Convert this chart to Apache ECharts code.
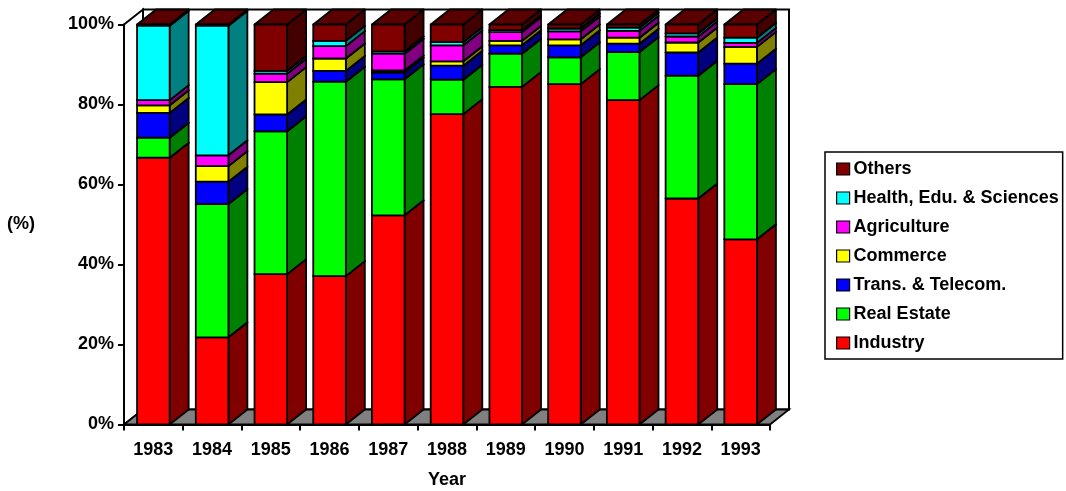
<!DOCTYPE html>
<html>
<head>
<meta charset="utf-8">
<script src="https://cdn.jsdelivr.net/npm/echarts@6/dist/echarts.min.js"></script>
<style>
  html, body { margin: 0; padding: 0; background: #fff; }
  #chart { width: 1066px; height: 491px; }
</style>
</head>
<body>
<div id="chart"></div>
<script>
// Share of investment by sector, 1983-1993 (%)
const years = ['1983', '1984', '1985', '1986', '1987', '1988', '1989', '1990', '1991', '1992', '1993'];
const industry    = [66.7, 21.8, 37.6, 37.1, 52.3, 77.6, 84.4, 85.1, 81.1, 56.5, 46.3];
const realEstate  = [ 5.0, 33.3, 35.7, 48.6, 34.0,  8.6,  8.3,  6.7, 12.0, 30.7, 38.8];
const transport   = [ 6.2,  5.6,  4.2,  2.7,  1.7,  3.5,  2.1,  3.0,  2.1,  5.8,  5.1];
const commerce    = [ 1.9,  3.9,  8.1,  3.1,  0.5,  1.1,  1.1,  1.5,  1.5,  2.5,  4.2];
const agriculture = [ 1.3,  2.7,  2.1,  3.1,  4.2,  4.0,  2.2,  2.0,  1.7,  1.5,  1.0];
const health      = [18.6, 32.4,  0.7,  1.3,  0.6,  0.8,  0.5,  0.7,  0.8,  0.8,  1.3];
const others      = [ 0.3,  0.3, 11.6,  4.1,  6.7,  4.4,  1.4,  1.0,  0.8,  2.2,  3.3];
const yTicks = ['0%', '20%', '40%', '60%', '80%', '100%'];

// stacking order, bottom to top
const layers = [
  { name: 'Industry',                values: industry,    front: '#ff0000', side: '#800000', top: '#b00000' },
  { name: 'Real Estate',             values: realEstate,  front: '#00ff00', side: '#008000', top: '#00b000' },
  { name: 'Trans. & Telecom.',       values: transport,   front: '#0000ff', side: '#000080', top: '#0000b0' },
  { name: 'Commerce',                values: commerce,    front: '#ffff00', side: '#808000', top: '#b0b000' },
  { name: 'Agriculture',             values: agriculture, front: '#ff00ff', side: '#800080', top: '#b000b0' },
  { name: 'Health, Edu. & Sciences', values: health,      front: '#00ffff', side: '#008080', top: '#00b0b0' },
  { name: 'Others',                  values: others,      front: '#800000', side: '#420000', top: '#5a0000' }
];

// depth of the pseudo-3D boxes (px)
const DX = 19, DY = 15;
const BAR_RATIO = 0.555;
const FONT = '"Liberation Sans", Arial, sans-serif';
const FS = 18;
const EDGE = { stroke: '#000', lineWidth: 1.8, lineJoin: 'round' };

function frameItem(params, api) {
  const cs = params.coordSys;
  const x = cs.x, y = cs.y, w = cs.width, h = cs.height;
  const b = y + h;
  return {
    type: 'group',
    children: [
      { type: 'rect', shape: { x: x + DX, y: y - DY, width: w, height: h },
        style: { fill: '#fff', stroke: '#000', lineWidth: 2 } },
      { type: 'polygon', shape: { points: [[x, y], [x + DX, y - DY], [x + DX, b - DY], [x, b]] },
        style: { fill: '#fff', stroke: '#000', lineWidth: 2 } },
      { type: 'polygon', shape: { points: [[x, b], [x + w, b], [x + w + DX, b - DY], [x + DX, b - DY]] },
        style: { fill: '#808080', stroke: '#000', lineWidth: 1.8 } }
    ]
  };
}

function makeBoxRenderer(layer) {
  return function (params, api) {
    const i = api.value(0), lo = api.value(1), hi = api.value(2);
    if (!(hi > lo)) return null;
    const pb = api.coord([i, lo]);
    const pt = api.coord([i, hi]);
    const w = api.size([1, 0])[0] * BAR_RATIO;
    const x0 = pb[0] - w / 2, x1 = pb[0] + w / 2;
    const yb = pb[1], yt = pt[1];
    return {
      type: 'group',
      children: [
        { type: 'polygon', shape: { points: [[x1, yb], [x1 + DX, yb - DY], [x1 + DX, yt - DY], [x1, yt]] },
          style: Object.assign({ fill: layer.side }, EDGE) },
        { type: 'polygon', shape: { points: [[x0, yt], [x1, yt], [x1 + DX, yt - DY], [x0 + DX, yt - DY]] },
          style: Object.assign({ fill: layer.top }, EDGE) },
        { type: 'rect', shape: { x: x0, y: yt, width: w, height: yb - yt },
          style: Object.assign({ fill: layer.front }, EDGE) }
      ]
    };
  };
}

const running = years.map(() => 0);
const boxSeries = layers.map(layer => {
  const data = years.map((_, i) => {
    const lo = running[i];
    const hi = lo + layer.values[i];
    running[i] = hi;
    return [i, lo, hi];
  });
  return {
    type: 'custom',
    name: layer.name,
    renderItem: makeBoxRenderer(layer),
    encode: { x: 0, y: [1, 2] },
    itemStyle: { color: layer.front },
    data: data,
    z: 3
  };
});

const chart = echarts.init(document.getElementById('chart'), null, { renderer: 'canvas' });
chart.setOption({
  animation: false,
  backgroundColor: '#fff',
  textStyle: { fontFamily: FONT, fontWeight: 'bold', color: '#000' },
  grid: { left: 124, right: 296, top: 24.5, bottom: 66.5, containLabel: false, outerBoundsMode: 'none' },
  xAxis: {
    type: 'category',
    data: years,
    name: 'Year',
    nameLocation: 'middle',
    nameGap: 47,
    nameTextStyle: { fontFamily: FONT, fontWeight: 'bold', fontSize: FS, color: '#000' },
    axisLine: { lineStyle: { color: '#000', width: 2 } },
    axisTick: { show: true, length: 6, lineStyle: { color: '#000', width: 2 } },
    axisLabel: { margin: 17, fontFamily: FONT, fontWeight: 'bold', fontSize: FS, color: '#000' },
    splitLine: { show: false },
    z: 1
  },
  yAxis: {
    type: 'value',
    min: 0,
    max: 100,
    interval: 20,
    name: '(%)',
    nameLocation: 'middle',
    nameRotate: 0,
    nameGap: 89,
    nameTextStyle: { fontFamily: FONT, fontWeight: 'bold', fontSize: FS, color: '#000', padding: [6, 0, 0, 0] },
    axisLine: { show: true, lineStyle: { color: '#000', width: 2 } },
    axisTick: { show: true, length: 6, lineStyle: { color: '#000', width: 2 } },
    axisLabel: {
      margin: 10, fontFamily: FONT, fontWeight: 'bold', fontSize: FS, color: '#000',
      formatter: v => yTicks[Math.round(v / 20)]
    },
    splitLine: { show: false },
    z: 1
  },
  legend: {
    orient: 'vertical',
    left: 825,
    top: 152,
    data: layers.map(l => l.name).reverse(),
    icon: 'rect',
    itemWidth: 13,
    itemHeight: 12,
    itemGap: 11,
    padding: [8, 4, 7, 11],
    borderColor: '#000',
    borderWidth: 1.5,
    selectedMode: false,
    itemStyle: { borderColor: '#000', borderWidth: 1.2 },
    textStyle: { fontFamily: FONT, fontWeight: 'bold', fontSize: FS, lineHeight: 18, color: '#000', padding: [0, 0, 0, -1] }
  },
  series: [
    { type: 'custom', name: 'frame', silent: true, renderItem: frameItem, data: [[0, 0]], encode: { x: 0, y: 1 }, z: 0 }
  ].concat(boxSeries)
});
</script>
</body>
</html>
